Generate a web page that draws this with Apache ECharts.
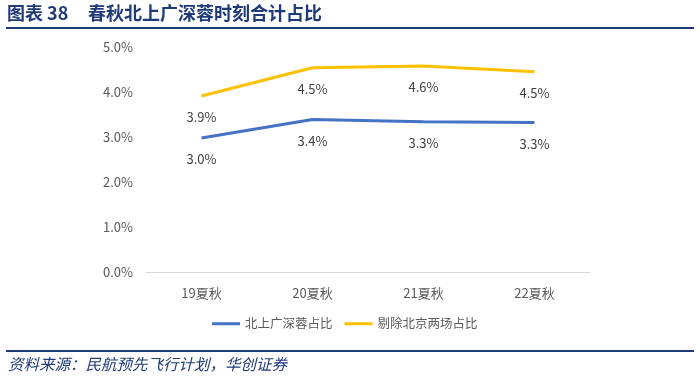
<!DOCTYPE html>
<html>
<head>
<meta charset="utf-8">
<script src="https://cdn.jsdelivr.net/npm/echarts@6/dist/echarts.min.js"></script>
<style>
html,body{margin:0;padding:0;background:#fff;}
#chart{width:700px;height:377px;}
</style>
</head>
<body>
<div id="chart"></div>
<script>
var categories = ['19夏秋', '20夏秋', '21夏秋', '22夏秋'];
var seriesNames = ['北上广深蓉占比', '剔除北京两场占比'];
var bsgszShare = [2.98, 3.39, 3.34, 3.32];
var exBeijingShare = [3.91, 4.54, 4.58, 4.45];
var yTicks = [0, 1, 2, 3, 4, 5];

var navy = '#1F3A7A';
var chart = echarts.init(document.getElementById('chart'), null, {renderer: 'canvas'});
var font = '"Microsoft YaHei","Noto Sans CJK SC","Noto Sans",sans-serif';
function pct(p) { return p.value.toFixed(1) + '%'; }
var option = {
  backgroundColor: '#fff',
  animation: false,
  graphic: [
    {type: 'text', left: 7, top: 4, style: {text: '图表 38', fill: navy, font: 'bold 18px "Noto Sans CJK SC", serif'}},
    {type: 'text', left: 88, top: 4, style: {text: '春秋北上广深蓉时刻合计占比', fill: navy, font: 'bold 18px "Noto Sans CJK SC", serif'}},
    {type: 'rect', shape: {x: 6, y: 27, width: 688, height: 2}, style: {fill: navy}},
    {type: 'rect', shape: {x: 6, y: 350, width: 688, height: 2}, style: {fill: navy}},
    {type: 'text', left: 8, top: 356, style: {text: '资料来源：民航预先飞行计划，华创证券', fill: navy, font: 'italic 15.5px "Noto Sans CJK SC", sans-serif'}}
  ],
  grid: {left: 146, right: 110, top: 47, bottom: 105, containLabel: false},
  legend: {
    data: seriesNames,
    bottom: 42,
    left: 207,
    itemWidth: 28,
    itemHeight: 3,
    itemGap: 12,
    icon: 'rect',
    textStyle: {color: '#595959', fontSize: 12.5, fontFamily: font}
  },
  xAxis: {
    type: 'category',
    data: categories,
    boundaryGap: true,
    axisLine: {lineStyle: {color: '#D9D9D9', width: 1}},
    axisTick: {show: false},
    axisLabel: {color: '#595959', fontSize: 13, fontFamily: font, margin: 15}
  },
  yAxis: {
    type: 'value',
    min: yTicks[0],
    max: yTicks[yTicks.length - 1],
    interval: 1,
    splitLine: {show: false},
    axisLine: {show: false},
    axisTick: {show: false},
    axisLabel: {color: '#595959', fontSize: 13, fontFamily: font, margin: 13,
      formatter: function (v) { return v.toFixed(1) + '%'; }}
  },
  series: [
    {
      name: seriesNames[0], type: 'line', data: bsgszShare,
      symbol: 'circle', symbolSize: 0, showSymbol: true,
      lineStyle: {color: '#4472C4', width: 3}, itemStyle: {color: '#4472C4'},
      label: {show: true, position: 'bottom', distance: 15, color: '#404040', fontSize: 13, fontFamily: font, formatter: pct}
    },
    {
      name: seriesNames[1], type: 'line', data: exBeijingShare,
      symbol: 'circle', symbolSize: 0, showSymbol: true,
      lineStyle: {color: '#FFC000', width: 3}, itemStyle: {color: '#FFC000'},
      label: {show: true, position: 'bottom', distance: 15, color: '#404040', fontSize: 13, fontFamily: font, formatter: pct}
    }
  ]
};
chart.setOption(option);
</script>
</body>
</html>
